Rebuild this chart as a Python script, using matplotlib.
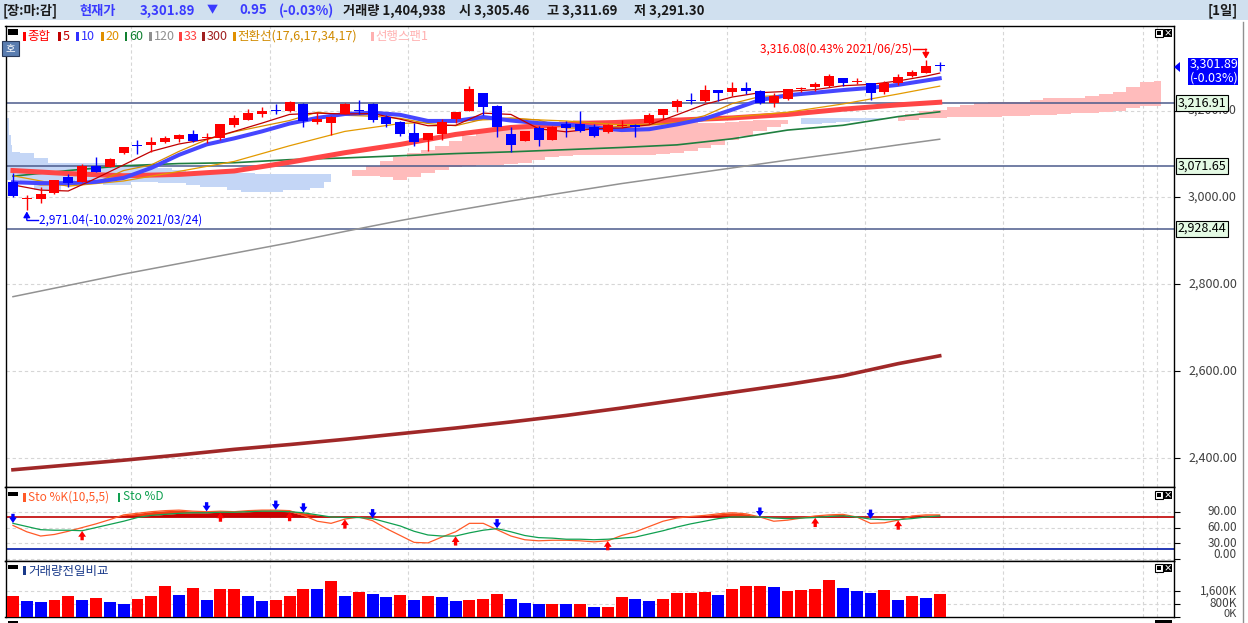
import matplotlib
matplotlib.use('Agg')
import matplotlib.pyplot as plt
import numpy as np
from matplotlib.patches import Rectangle, Polygon
from matplotlib.lines import Line2D
from matplotlib.transforms import blended_transform_factory, offset_copy

plt.rcParams['font.family'] = ['Noto Sans CJK KR', 'DejaVu Sans']

W, H = 1248, 623

# daily candles 2021/03/23 .. 2021/06/28
opens = [3036, 2996, 2996, 3011, 3048, 3036, 3072, 3071, 3103, 3121,
         3121, 3128, 3135, 3146, 3136, 3136, 3167, 3178, 3192, 3201,
         3199, 3215, 3173, 3172, 3192, 3201, 3215, 3184, 3174, 3148,
         3132, 3145, 3180, 3200, 3240, 3210, 3146, 3131, 3159, 3132,
         3168, 3168, 3163, 3151, 3165, 3167, 3171, 3190, 3207, 3223,
         3223, 3247, 3243, 3251, 3245, 3218, 3226, 3250, 3253, 3257,
         3275, 3266, 3263, 3243, 3263, 3280, 3287, 3305.46]
highs = [3057, 3006, 3025, 3041, 3055, 3077, 3094, 3090, 3117, 3132,
         3138, 3141, 3146, 3155, 3148, 3169, 3190, 3203, 3209, 3216,
         3222, 3217, 3197, 3188, 3217, 3224, 3217, 3189, 3176, 3171,
         3149, 3181, 3197, 3256, 3240, 3212, 3163, 3153, 3164, 3165,
         3175, 3199, 3169, 3168, 3178, 3170, 3194, 3204, 3226, 3240,
         3259, 3247, 3265, 3265, 3248, 3241, 3250, 3255, 3266, 3283,
         3275, 3275, 3264, 3267, 3283, 3293, 3316.08, 3311.69]
lows = [3002, 2971.04, 2987, 3008, 3025, 3036, 3059, 3071, 3099, 3100,
        3105, 3126, 3128, 3128, 3126, 3132, 3161, 3178, 3184, 3192,
        3197, 3163, 3170, 3144, 3192, 3192, 3173, 3161, 3141, 3118,
        3108, 3132, 3172, 3200, 3190, 3138, 3105, 3130, 3118, 3132,
        3139, 3150, 3138, 3148, 3159, 3139, 3168, 3180, 3196, 3214,
        3220, 3222, 3234, 3238, 3215, 3209, 3224, 3243, 3246, 3255,
        3256, 3260, 3224, 3238, 3258, 3276, 3286, 3291.30]
closes = [3003, 2999, 3008, 3040, 3034, 3072, 3059, 3088, 3115, 3119,
          3128, 3137, 3144, 3131, 3138, 3169, 3183, 3194, 3200, 3199,
          3219, 3177, 3180, 3184, 3216, 3199, 3178, 3170, 3146, 3128,
          3149, 3174, 3197, 3249, 3209, 3161, 3121, 3153, 3132, 3163,
          3159, 3154, 3141, 3167, 3166, 3162, 3190, 3204, 3222, 3221,
          3247, 3240, 3251, 3246, 3218, 3233, 3249, 3252, 3260, 3279,
          3264, 3267, 3240, 3263, 3278, 3288, 3302.84, 3301.89]

# volume in thousands, colour vs previous day (1 = up/red, 0 = down/blue)
volumes = [1288, 977, 914, 1039, 1288, 1039, 1164, 914, 790, 1101,
           1288, 1912, 1351, 1787, 1039, 1725, 1740, 1288, 977, 1039,
           1288, 1725, 1700, 2223, 1288, 1538, 1413, 1226, 1351, 1039,
           1288, 1226, 977, 1039, 1101, 1413, 1122, 852, 790, 795,
           785, 790, 603, 610, 1247, 1101, 977, 1101, 1475, 1480,
           1538, 1351, 1725, 1912, 1915, 1850, 1600, 1662, 1725, 2286,
           1787, 1600, 1475, 1662, 1039, 1288, 1164, 1405]
vol_up = [1, 0, 0, 1, 1, 0, 1, 0, 0, 1,
          1, 1, 0, 1, 0, 1, 1, 0, 0, 1,
          1, 1, 0, 1, 0, 1, 0, 0, 1, 0,
          1, 0, 0, 1, 1, 1, 0, 0, 0, 1,
          0, 1, 0, 1, 1, 0, 0, 1, 1, 1,
          1, 0, 1, 1, 1, 0, 1, 1, 1, 1,
          0, 0, 0, 1, 0, 1, 0, 1]

# moving averages
idx2 = list(range(0, 68, 2)) + [67]
idx4 = list(range(0, 68, 4)) + [67]
ma5 = [3029, 3017, 3015, 3044, 3075, 3106, 3123, 3134, 3152, 3171, 3191, 3194,
       3192, 3193, 3180, 3165, 3166, 3194, 3191, 3158, 3151, 3158, 3160, 3167,
       3190, 3214, 3231, 3241, 3244, 3248, 3257, 3260, 3268, 3279, 3286]
ma10 = [3035, 3033, 3033, 3036, 3045, 3068, 3098, 3122, 3136, 3152, 3170, 3183,
        3192, 3195, 3190, 3176, 3176, 3185, 3177, 3171, 3168, 3161, 3155, 3157,
        3168, 3181, 3202, 3224, 3235, 3241, 3247, 3252, 3259, 3269, 3274]
conv_line = [3037, 3029, 3029, 3034, 3062, 3075, 3106, 3133, 3151, 3164, 3177, 3196,
             3189, 3187, 3182, 3170, 3165, 3180, 3183, 3178, 3160, 3159, 3164, 3167,
             3172, 3188, 3216, 3232, 3236, 3239, 3248, 3252, 3258, 3268, 3272]
ma20 = [3050, 3026, 3038, 3060, 3083, 3119, 3152, 3170, 3176, 3181, 3176, 3167,
        3170, 3185, 3196, 3215, 3238, 3256]
ma33 = [3062, 3055, 3050, 3053, 3061, 3081, 3103, 3122, 3145, 3161, 3168, 3173,
        3178, 3183, 3191, 3203, 3213, 3219]
ma60 = [3049, 3062, 3073, 3078, 3080, 3087, 3091, 3096, 3101, 3105, 3110, 3115,
        3121, 3135, 3155, 3166, 3186, 3197]
ma120 = [2772, 2798, 2824, 2848, 2872, 2896, 2922, 2947, 2970, 2992, 3012, 3032,
         3050, 3068, 3086, 3103, 3121, 3134]
ma300 = [2374, 2385, 2396, 2408, 2421, 2432, 2444, 2457, 2470, 2484, 2499, 2516,
         2534, 2552, 2570, 2590, 2618, 2636]

# ichimoku cloud (leading spans, shifted 17 days ahead)
cloud_idx = [-0.62, -0.54, -0.46, -0.34, -0.22, -0.1, 0] + list(range(1, 84))
span1 = ([3040, 3040, 3040, 3040, 3040, 3040, 3040] +
         [3036, 3017, 3017, 3036, 3040, 3033, 3029, 3029, 3036, 3036, 3033, 3033,
          3029, 3024, 3024, 3017, 3013, 3013, 3013, 3017, 3017, 3022, 3036] +
         [3052] +
         [3063, 3072, 3084, 3093, 3102, 3109, 3118, 3130, 3141, 3151, 3155, 3162,
          3167, 3171, 3173, 3176, 3178, 3178, 3178, 3178, 3178, 3178, 3176, 3174,
          3174, 3171, 3171, 3174, 3176, 3178, 3178, 3178] +
         [3168, 3170, 3172, 3174, 3176, 3178, 3180] +
         [3185, 3192, 3199, 3201, 3208, 3213, 3217, 3220, 3220, 3220, 3224, 3228,
          3229, 3229, 3233, 3238, 3243, 3253, 3266, 3268])
span2 = ([3285, 3270, 3236, 3183, 3144, 3121, 3105] +
         [3102, 3091] + [3079] * 5 + [3075] * 3 +
         [3068, 3063, 3059, 3059, 3056, 3056, 3056] +
         [3054] * 6 +
         [3052] +
         [3049, 3049, 3047, 3040, 3047, 3056, 3063, 3070, 3072, 3075, 3075, 3077,
          3079, 3086, 3093, 3095, 3098, 3098, 3098, 3098, 3098, 3098, 3100, 3102,
          3107, 3114, 3121, 3132, 3141, 3153, 3162, 3169] +
         [3183] * 7 +
         [3176, 3179, 3182, 3183, 3185, 3186, 3186, 3186, 3187, 3187, 3189, 3189,
          3192, 3194, 3194, 3197, 3200, 3205, 3210, 3210])

support = [3216.91, 3071.65, 2928.44]
price_ticks = [2400, 2600, 2800, 3000, 3200]

# stochastics
sto_k = [64, 52, 44, 47, 53, 60, 67, 75, 84, 87,
         90, 92, 93, 91, 90, 91, 90, 92, 93, 93,
         92, 83, 72, 68, 76, 80, 73, 58, 45, 32,
         31, 42, 52, 68, 68, 56, 44, 37, 35, 36,
         36, 35, 33, 35, 45, 52, 62, 72, 78, 81,
         83, 86, 88, 86, 80, 72, 74, 78, 82, 84,
         85, 80, 68, 69, 74, 82, 84, 84]
sto_d = [68, 62, 56, 55, 55, 54, 60, 66, 72, 79,
         83, 85, 87, 88, 88, 89, 89, 90, 91, 91,
         90, 88, 84, 80, 79, 79, 77, 70, 63, 53,
         46, 44, 44, 50, 55, 58, 52, 45, 41, 40,
         38, 38, 37, 38, 40, 42, 48, 54, 61, 67,
         72, 77, 80, 80, 80, 78, 77, 78, 79, 81,
         82, 80, 76, 75, 75, 77, 80, 82]
sell_sig = [0, 14, 19, 21, 26, 35, 54, 62]
buy_sig = [5, 15, 20, 24, 32, 43, 58, 64]

hi_i, hi_pct, hi_date = 66, 0.43, '2021/06/25'
lo_i, lo_pct, lo_date = 1, -10.02, '2021/03/24'

date_sep = [8.53, 18.58, 28.56, 37.6, 51.63, 61.6, 71.6, 81.7, 82.7]

fig = plt.figure(figsize=(W / 100, H / 100), dpi=100)


def fx(x):
    return x / W


def fy(y):
    return 1 - y / H


def frect(x0, y0, x1, y1, **kw):
    r = Rectangle((fx(x0), fy(y1)), (x1 - x0) / W, (y1 - y0) / H,
                  transform=fig.transFigure, **kw)
    fig.add_artist(r)
    return r


def ftext(x, y, s, **kw):
    kw.setdefault('va', 'center')
    return fig.text(fx(x), fy(y), s, **kw)


def panel(y0, y1):
    a = fig.add_axes([fx(5.5), fy(y1), (1174 - 5.5) / W, (y1 - y0) / H])
    a.set_xlim(-0.54, 83.94)
    a.set_xticks([])
    a.yaxis.tick_right()
    a.tick_params(axis='y', length=4, width=0.8, labelright=False, labelleft=False)
    for s in a.spines.values():
        s.set_color('black')
        s.set_linewidth(1)
    for g in date_sep:
        a.axvline(g, color='#d6d6d6', lw=0.8, ls=(0, (3, 2.5)), zorder=0)
    return a


def rlabel(a, v, s, dy=0, size=9, **kw):
    tr = blended_transform_factory(fig.transFigure, a.transData)
    if dy:
        tr = offset_copy(tr, fig=fig, y=dy, units='dots')
    kw.setdefault('zorder', 3)
    return a.text(fx(1237), v, s, transform=tr, ha='right', va='center',
                  fontsize=size, color='#404040', clip_on=False, **kw)


def icons(y):
    frect(1155, y, 1163, y + 8, fc='white', ec='black', lw=0.8)
    frect(1157, y + 2, 1161, y + 6, fc='black', ec='none')
    frect(1164, y, 1172, y + 8, fc='black', ec='none')
    ftext(1168, y + 4, '×', color='white', fontsize=6, ha='center', weight='bold')


def sig_arrow(a, x, tip, tail, color):
    a.annotate('', xy=(x, tip), xytext=(x, tail),
               arrowprops=dict(arrowstyle='simple,head_width=0.75,head_length=0.55,tail_width=0.32',
                               mutation_scale=7.5, fc=color, ec='none',
                               shrinkA=0, shrinkB=0),
               zorder=4, annotation_clip=False)


# header bar
frect(0, 0, W, 20, fc='#d0e0ef', ec='none')
hdr = dict(fontsize=9.5, weight='bold')
ftext(3, 10.5, '[장:마:감]', color='#1a1a1a', **hdr)
ftext(79, 10.5, '현재가', color='#3a3aff', **hdr)
ftext(140, 10.5, f'{closes[-1]:,.2f}', color='#3a3aff', **hdr)
ftext(207, 10.5, '▼', color='#3a3aff', fontsize=8)
ftext(239, 10.5, '0.95', color='#3a3aff', **hdr)
ftext(279, 10.5, '(-0.03%)', color='#3a3aff', **hdr)
ftext(343, 10.5, '거래량 1,404,938', color='#1a1a1a', **hdr)
ftext(459, 10.5, f'시 {opens[-1]:,.2f}', color='#1a1a1a', **hdr)
ftext(547, 10.5, f'고 {highs[-1]:,.2f}', color='#1a1a1a', **hdr)
ftext(634, 10.5, f'저 {lows[-1]:,.2f}', color='#1a1a1a', **hdr)
ftext(1238, 10.5, '[1일]', color='#1a1a1a', ha='right', **hdr)
fig.add_artist(Line2D([fx(1243)] * 2, [fy(22), fy(623)], color='#909090', lw=1))

# ---------------- main price panel ----------------
ax = panel(26, 487)
ax.set_ylim(2334.4, 3394.3)
ax.set_yticks(price_ticks)
for t in price_ticks:
    ax.axhline(t, color='#d6d6d6', lw=0.8, ls=(0, (3, 2.5)), zorder=0)

cx = np.array(cloud_idx)
s1 = np.array(span1)
s2 = np.array(span2)
ax.fill_between(cx, s1, s2, where=s1 >= s2, step='mid', color='#ffbcbc', lw=0, zorder=1)
ax.fill_between(cx, s1, s2, where=s1 < s2, step='mid', color='#c4d6f6', lw=0, zorder=1)

for v in support:
    ax.axhline(v, color='#4b5b8b', lw=1.1, zorder=2)

ax.plot(idx4, ma300, color='#a02828', lw=2.6, zorder=3)
ax.plot(idx4, ma120, color='#929292', lw=1.1, zorder=3)
ax.plot(idx4, ma60, color='#1f7f3f', lw=1.2, zorder=3)
ax.plot(idx4, ma33, color='#ff4646', lw=3.6, zorder=3)
ax.plot(idx4, ma20, color='#e39a00', lw=0.9, zorder=3)
ax.plot(idx2, conv_line, color='#d88c00', lw=0.9, zorder=3)
ax.plot(idx2, ma10, color='#4646ff', lw=2.9, zorder=3)
ax.plot(idx2, ma5, color='#c00000', lw=0.9, zorder=3)

o, hh, ll, c = map(np.array, (opens, highs, lows, closes))
xi = np.arange(len(c))
ccol = np.where(c >= o, '#ff0000', '#0000ff')
ax.vlines(xi, ll, hh, colors=ccol, lw=1, zorder=5)
ax.bar(xi, np.maximum(np.abs(c - o), 2.3), bottom=np.minimum(o, c), width=0.72,
       color=ccol, lw=0, zorder=6)

# high / low annotations
hv = highs[hi_i]
yl = hv + 25
ax.plot([hi_i - 0.94, hi_i], [yl, yl], color='red', lw=1, zorder=7)
ax.annotate('', xy=(hi_i, hv + 3), xytext=(hi_i, yl),
            arrowprops=dict(arrowstyle='-|>,head_width=0.2,head_length=0.35',
                            color='red', lw=1, shrinkA=0, shrinkB=0), zorder=7)
ax.text(hi_i - 0.98, yl, f'{hv:,.2f}({hi_pct:.2f}% {hi_date})', color='red',
        fontsize=8.5, ha='right', va='center', zorder=7)
lv = lows[lo_i]
yb = lv - 23
ax.plot([lo_i, lo_i + 0.8], [yb, yb], color='blue', lw=1, zorder=7)
ax.annotate('', xy=(lo_i, lv - 3), xytext=(lo_i, yb),
            arrowprops=dict(arrowstyle='-|>,head_width=0.2,head_length=0.35',
                            color='blue', lw=1, shrinkA=0, shrinkB=0), zorder=7)
ax.text(lo_i + 0.87, yb, f'{lv:,.2f}({lo_pct:.2f}% {lo_date})', color='blue',
        fontsize=8.5, ha='left', va='center', zorder=7)

for t in price_ticks:
    rlabel(ax, t, f'{t:,.2f}')
tr_main = blended_transform_factory(fig.transFigure, ax.transData)
for v in support:
    ax.text(fx(1177.5), v, f'{v:,.2f}', transform=tr_main, ha='left', va='center',
            fontsize=9, color='black', clip_on=False, zorder=8,
            bbox=dict(boxstyle='square,pad=0.12', fc='#e4fae4', ec='black', lw=0.8))

# current price tag
frect(1188, 58, 1238, 85, fc='#0000ff', ec='none')
ftext(1190, 64.5, f'{closes[-1]:,.2f}', color='white', fontsize=9)
ftext(1190, 78, '(-0.03%)', color='white', fontsize=9)
fig.add_artist(Polygon([(fx(1174), fy(67)), (fx(1180), fy(62)), (fx(1180), fy(72))],
                       closed=True, transform=fig.transFigure, fc='#0000ff', ec='none'))

# main legend
frect(8, 29, 18, 34.5, fc='black', ec='none')
legend_main = [(23, '종합', '#ff0000', '#ff0000'), (58, '5', '#c00000', '#c00000'),
               (76, '10', '#3030ff', '#3030ff'), (101, '20', '#e09000', '#e09000'),
               (124.5, '60', '#108030', '#108030'), (149, '120', '#909090', '#909090'),
               (179, '33', '#ff4040', '#ff4040'), (202, '300', '#a02020', '#a02020'),
               (233, '전환선(17,6,17,34,17)', '#e09000', '#d08a00'),
               (371, '선행스팬1', '#ffb0b0', '#ffb0b0')]
for bx, name, bc, tc in legend_main:
    frect(bx, 32, bx + 2.5, 41, fc=bc, ec='none')
    ftext(bx + 4.5, 36.5, name, color=tc, fontsize=9)
frect(2, 41, 19, 56, fc='#5a7db0', ec='#2a3a5a', lw=0.8)
ftext(10.5, 48.5, '호', color='white', fontsize=7.5, ha='center')
icons(29)

# ---------------- stochastics panel ----------------
ax_st = panel(487, 561)
ax_st.set_ylim(-3.2, 136.7)
sto_ticks = [0, 30, 60, 90]
ax_st.set_yticks(sto_ticks)
for t in sto_ticks:
    ax_st.axhline(t, color='#d6d6d6', lw=0.8, ls=(0, (3, 2.5)), zorder=0)
ax_st.axhline(80, color='#c00000', lw=1.2, zorder=2)
ax_st.axhline(20, color='#0018a8', lw=1.2, zorder=2)
k = np.array(sto_k, float)
d = np.array(sto_d, float)
lo_kd = np.maximum(np.minimum(k, d), 80)
hi_kd = np.maximum(np.maximum(k, d), 80)
ax_st.fill_between(xi, 80, lo_kd, color='#cc0000', lw=0, zorder=1)
ax_st.fill_between(xi, lo_kd, hi_kd, color='#f03c14', lw=0, zorder=1)
ax_st.plot(xi, k, color='#ff5a28', lw=0.9, zorder=3)
ax_st.plot(xi, d, color='#10a050', lw=0.9, zorder=3)
for i in sell_sig:
    tip = max(k[i], d[i])
    sig_arrow(ax_st, i, tip + 0.5, tip + 18, '#0000ff')
for i in buy_sig:
    tip = min(k[i], d[i])
    sig_arrow(ax_st, i, tip - 0.5, tip - 18, '#ff0000')
for t in [90, 60, 30]:
    rlabel(ax_st, t, f'{t:.2f}', size=8.5)
rlabel(ax_st, 0, '0.00', dy=5, size=8.5)
frect(8, 492, 18, 495.5, fc='black', ec='none')
frect(23, 492.5, 25.5, 501.5, fc='#ff5a28', ec='none')
ftext(28, 497, 'Sto %K(10,5,5)', color='#ff5a28', fontsize=8.5)
frect(118, 492.5, 120.5, 501.5, fc='#10a050', ec='none')
ftext(123, 497, 'Sto %D', color='#10a050', fontsize=8.5)
icons(491)

# ---------------- volume panel ----------------
ax_v = panel(561, 617)
ax_v.set_ylim(0, 3440)
ax_v.set_yticks([0, 800, 1600])
for t in [800, 1600]:
    ax_v.axhline(t, color='#d6d6d6', lw=0.8, ls=(0, (3, 2.5)), zorder=0)
vcol = ['#ff0000' if u else '#0000ff' for u in vol_up]
ax_v.bar(xi, volumes, width=0.86, color=vcol, lw=0, zorder=3)
rlabel(ax_v, 1600, '1,600K', size=8.5)
rlabel(ax_v, 800, '800K', size=8.5)
rlabel(ax_v, 0, '0K', dy=3, size=8)
frect(8, 565, 18, 568.5, fc='black', ec='none')
frect(23, 566, 25.5, 575, fc='#1a3a8a', ec='none')
ftext(28, 571, '거래량전일비교', color='#1a3a8a', fontsize=9)
icons(564)

# sliver of the next panel
frect(8, 620.5, 18, 623, fc='black', ec='none')
frect(1155, 620, 1172, 623, fc='black', ec='none')

fig.savefig('out.png', dpi=100)
